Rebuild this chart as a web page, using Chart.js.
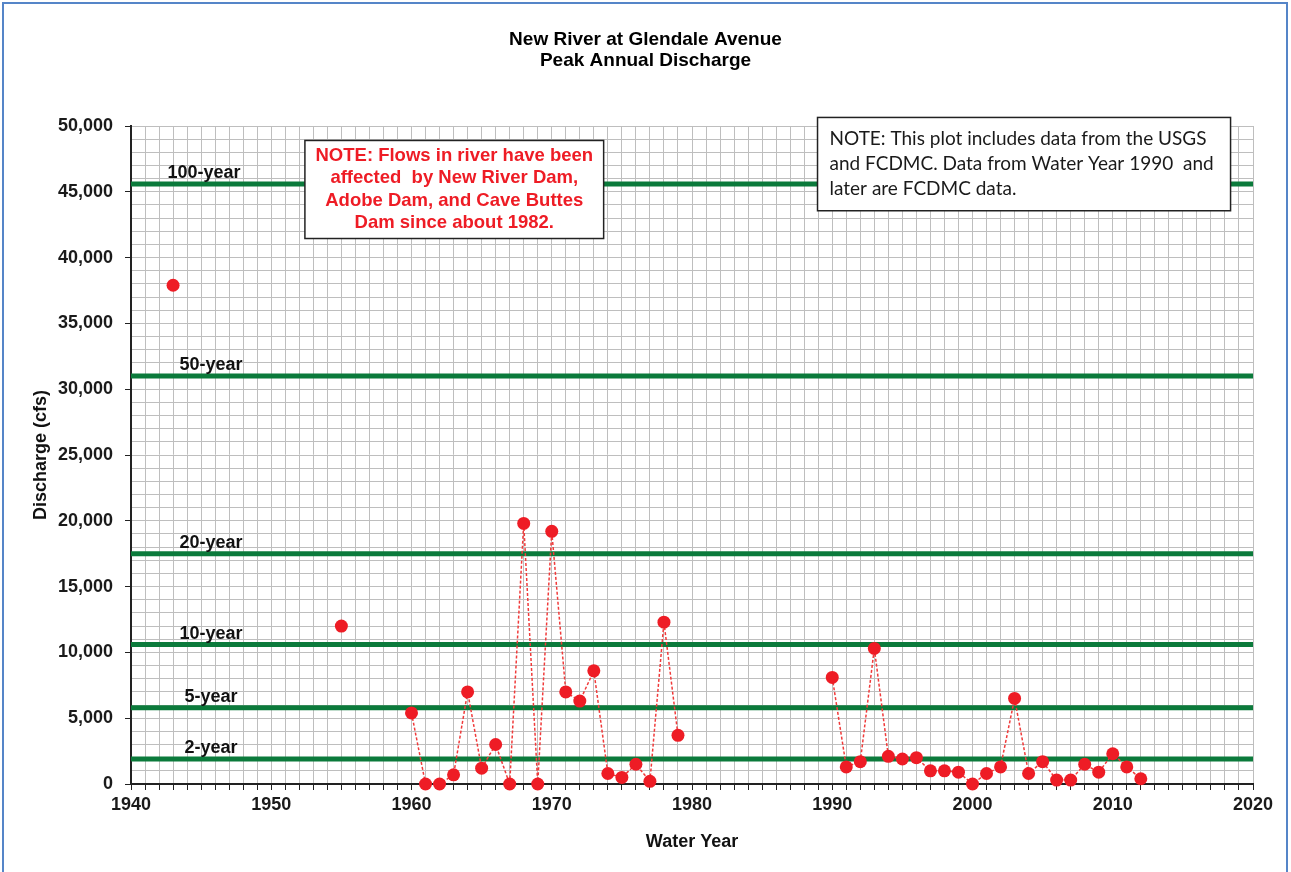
<!DOCTYPE html>
<html>
<head>
<meta charset="utf-8">
<title>New River at Glendale Avenue - Peak Annual Discharge</title>
<script src="https://cdn.jsdelivr.net/npm/chart.js@4.4.1/dist/chart.umd.min.js"></script>
<style>
  html, body { margin: 0; padding: 0; background: #fff; }
  #wrap { position: relative; width: 1291px; height: 872px; overflow: hidden; }
  #frame { position: absolute; left: 2px; top: 2px; width: 1282px; height: 900px; border: 2px solid #5585c8; pointer-events: none; }
  canvas { position: absolute; left: 0; top: 0; }
</style>
</head>
<body>
<div id="wrap">
  <canvas id="grafico" width="1291" height="872"></canvas>
  <div id="frame"></div>
</div>
<script>
// Peak annual discharge
const years = [1943, 1955,
    1960, 1961, 1962, 1963, 1964, 1965, 1966, 1967, 1968, 1969,
    1970, 1971, 1972, 1973, 1974, 1975, 1976, 1977, 1978, 1979,
    1990, 1991, 1992, 1993, 1994, 1995, 1996, 1997, 1998, 1999,
    2000, 2001, 2002, 2003, 2004, 2005, 2006, 2007, 2008, 2009,
    2010, 2011, 2012];
const discharge = [37900, 12000,
    5400, 0, 0, 700, 7000, 1200, 3000, 0, 19800, 0,
    19200, 7000, 6300, 8600, 800, 500, 1500, 200, 12300, 3700,
    8100, 1300, 1700, 10300, 2100, 1900, 2000, 1000, 1000, 900,
    0, 800, 1300, 6500, 800, 1700, 300, 300, 1500, 900,
    2300, 1300, 400];

// Return period flows
const periodNames = ['100-year', '50-year', '20-year', '10-year', '5-year', '2-year'];
const periodFlows = [45600, 31000, 17500, 10600, 5800, 1900];

const titleLines = ['New River at Glendale Avenue', 'Peak Annual Discharge'];
const damNote = ['NOTE: Flows in river have been', 'affected  by New River Dam,', 'Adobe Dam, and Cave Buttes', 'Dam since about 1982.'];
const sourceNote = ['NOTE: This plot includes data from the USGS', 'and FCDMC. Data from Water Year 1990  and', 'later are FCDMC data.'];

const xMin = 1940, xMax = 2020;
const yMin = 0, yMax = 50000;

const FUENTE = '"Liberation Sans", Arial, sans-serif';
const ROJO = '#ee1c25';
const VERDE = '#0b7a3b';
const GRILLA = '#bebebe';

Chart.defaults.font.family = FUENTE;
Chart.defaults.color = '#111';

function caja(ctx, x1, y1, x2, y2) {
    ctx.fillStyle = '#fff';
    ctx.fillRect(x1, y1, x2 - x1, y2 - y1);
    ctx.lineWidth = 1.5;
    ctx.strokeStyle = '#222';
    ctx.strokeRect(x1, y1, x2 - x1, y2 - y1);
}

const anotaciones = {
    id: 'anotaciones',
    afterDatasetsDraw(chart) {
        const { ctx, scales: { x, y } } = chart;
        ctx.save();

        // labels on the return period lines
        ctx.font = 'bold 18px ' + FUENTE;
        ctx.fillStyle = '#111';
        ctx.textAlign = 'center';
        ctx.textBaseline = 'alphabetic';
        periodNames.forEach((n, i) => {
            const cx = x.getPixelForValue(i === 0 ? 1945.2 : 1945.7);
            ctx.fillText(n, cx, y.getPixelForValue(periodFlows[i]) - 6);
        });

        // red note about the dams
        let x1 = x.getPixelForValue(1952.4), x2 = x.getPixelForValue(1973.7);
        let y1 = y.getPixelForValue(48900), y2 = y.getPixelForValue(41450);
        caja(ctx, x1, y1, x2, y2);
        ctx.fillStyle = ROJO;
        ctx.font = 'bold 18.5px ' + FUENTE;
        ctx.textBaseline = 'middle';
        damNote.forEach((t, i) => ctx.fillText(t, (x1 + x2) / 2, y1 + 15 + i * 22.5));

        // data source note
        x1 = x.getPixelForValue(1988.95); x2 = x.getPixelForValue(2018.4);
        y1 = y.getPixelForValue(50650); y2 = y.getPixelForValue(43560);
        caja(ctx, x1, y1, x2, y2);
        ctx.fillStyle = '#1a1a1a';
        ctx.font = '19px Lato, ' + FUENTE;
        ctx.textAlign = 'left';
        sourceNote.forEach((t, i) => ctx.fillText(t, x1 + 12, y1 + 21 + i * 25.3));

        ctx.restore();
    }
};

function armarGrafico() {
    const ctx = document.getElementById('grafico').getContext('2d');
    const puntos = years.map((yr, i) => ({ x: yr, y: discharge[i] }));

    const datasets = [{
        label: 'Peak Annual Discharge',
        data: puntos,
        borderColor: '#f03a3a',
        borderWidth: 1.5,
        borderDash: [3, 2],
        pointRadius: 6.5,
        pointBackgroundColor: ROJO,
        pointBorderWidth: 0,
        clip: false,
        segment: {
            // no line across the missing years
            borderColor: c => (c.p1.parsed.x - c.p0.parsed.x > 1 ? 'transparent' : '#f03a3a')
        }
    }];
    periodNames.forEach((n, i) => {
        datasets.push({
            label: n,
            data: [{ x: xMin, y: periodFlows[i] }, { x: xMax, y: periodFlows[i] }],
            borderColor: VERDE,
            borderWidth: 5,
            pointRadius: 0
        });
    });

    new Chart(ctx, {
        type: 'line',
        data: { datasets },
        plugins: [anotaciones],
        options: {
            responsive: false,
            animation: false,
            devicePixelRatio: 1,
            layout: { padding: { left: 0, right: 0, top: 29.5, bottom: 0 } },
            scales: {
                x: {
                    type: 'linear',
                    min: xMin,
                    max: xMax,
                    afterFit: s => { s.height = 88; },
                    ticks: {
                        stepSize: 1,
                        autoSkip: false,
                        maxRotation: 0,
                        padding: 4,
                        color: '#1a1a1a',
                        font: { size: 18, weight: 'bold' },
                        callback: v => (v % 10 === 0 ? String(v) : '')
                    },
                    grid: { color: GRILLA, lineWidth: 1, tickLength: 6, tickColor: '#222' },
                    border: { color: '#222', width: 2 },
                    title: {
                        display: true,
                        text: 'Water Year',
                        color: '#111',
                        font: { size: 18, weight: 'bold' },
                        padding: { top: 0, bottom: 19 }
                    }
                },
                y: {
                    type: 'linear',
                    min: yMin,
                    max: yMax,
                    afterFit: s => { s.width = 131; },
                    ticks: {
                        stepSize: 1000,
                        autoSkip: false,
                        padding: 12,
                        color: '#1a1a1a',
                        font: { size: 18, weight: 'bold' },
                        callback: v => (v % 5000 === 0 ? v.toLocaleString('en-US') : '')
                    },
                    grid: {
                        color: GRILLA,
                        lineWidth: 1,
                        tickLength: 6,
                        tickColor: c => (c.tick && c.tick.value % 5000 === 0 ? '#222' : 'rgba(0,0,0,0)')
                    },
                    border: { color: '#222', width: 2 },
                    title: {
                        display: true,
                        text: 'Discharge (cfs)',
                        color: '#111',
                        font: { size: 18, weight: 'bold' },
                        padding: { top: 30, bottom: 0 }
                    }
                },
                // empty axis that only keeps the margin on the right
                derecha: {
                    type: 'linear',
                    position: 'right',
                    afterFit: s => { s.width = 38; },
                    ticks: { display: false },
                    grid: { display: false, drawTicks: false },
                    border: { display: false }
                }
            },
            plugins: {
                legend: { display: false },
                tooltip: { enabled: false },
                title: {
                    display: true,
                    text: titleLines,
                    color: '#000',
                    font: { size: 19, weight: 'bold', lineHeight: 1.1 },
                    padding: { top: 0, bottom: 54.7 }
                }
            }
        }
    });
}

window.addEventListener('DOMContentLoaded', armarGrafico);
</script>
</body>
</html>
